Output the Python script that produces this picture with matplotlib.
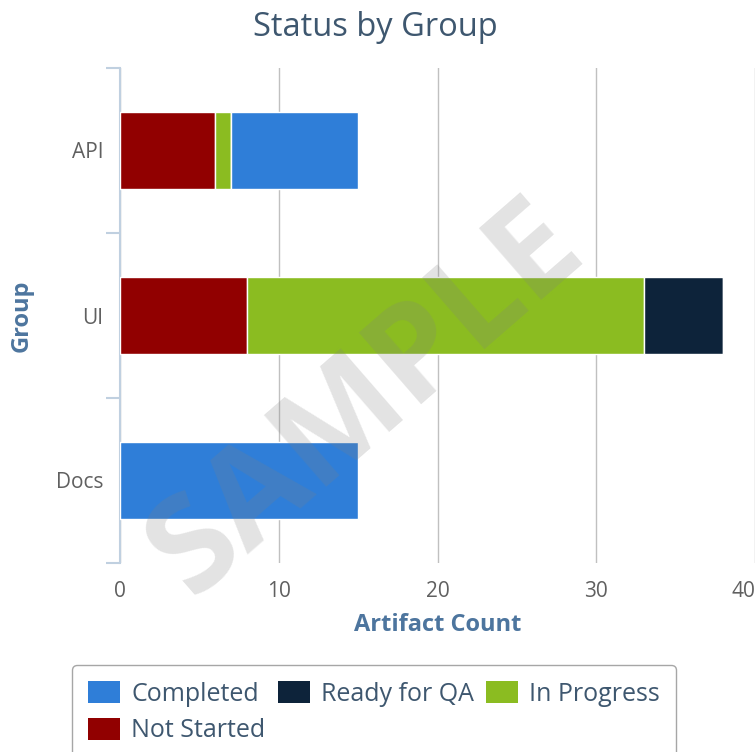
import numpy as np
import matplotlib
matplotlib.use("Agg")
import matplotlib.pyplot as plt
from matplotlib.patches import Patch

plt.rcParams['font.family'] = ['Open Sans', 'DejaVu Sans']

groups = ["API", "UI", "Docs"]
statuses = ["Not Started", "In Progress", "Ready for QA", "Completed"]
not_started = [6, 8, 0]
in_progress = [1, 25, 0]
ready_for_qa = [0, 5, 0]
completed = [8, 0, 15]
x_ticks = [0, 10, 20, 30, 40]
colors = {"Completed": "#2f7ed8", "Ready for QA": "#0d233a",
          "In Progress": "#8bbc21", "Not Started": "#910000"}

values = {"Not Started": not_started, "In Progress": in_progress,
          "Ready for QA": ready_for_qa, "Completed": completed}

fig = plt.figure(figsize=(7.56, 7.52), dpi=100)
ax = fig.add_axes([120/756, 1 - 563/752, 635/756, 495/752])

y = np.arange(len(groups))
left = np.zeros(len(groups))
for s in statuses:
    v = np.array(values[s], dtype=float)
    ax.barh(y, v, left=left, height=0.47, color=colors[s],
            edgecolor="white", linewidth=1, zorder=3)
    left += v

ax.set_xlim(0, 40)
ax.set_ylim(2.5, -0.5)
ax.set_xticks(x_ticks)
ax.set_yticks(y)
ax.set_yticklabels(groups)
ax.set_yticks([-0.5, 0.5, 1.5, 2.5], minor=True)

ax.grid(axis="x", color="#c0c0c0", linewidth=1, zorder=0)
for sp in ["top", "right", "bottom"]:
    ax.spines[sp].set_visible(False)
ax.spines["left"].set_color("#c0d0e0")
ax.spines["left"].set_linewidth(1.5)

ax.tick_params(axis="x", length=0, pad=13, labelsize=15, labelcolor="#606060")
ax.tick_params(axis="y", which="major", length=0, pad=12, labelsize=15, labelcolor="#606060")
ax.tick_params(axis="y", which="minor", length=10, width=1.5, color="#c0d0e0")
# keep the last x label inside the figure
ax.get_xticklabels()[-1].set_ha("right")

ax.set_xlabel("Artifact Count", fontsize=17, fontweight="bold", color="#4d759e")
ax.xaxis.label.set_va("center")
ax.xaxis.set_label_coords(0.5, -62/495)
ax.set_ylabel("Group", fontsize=17, fontweight="bold", color="#4d759e")
ax.yaxis.label.set_va("center")
ax.yaxis.set_label_coords(-98/635, 0.5)
fig.text(0.496, 1 - 27/752, "Status by Group", ha="center", va="center",
         fontsize=23.5, color="#3e576f")

# watermark over the bars
ax.text(0.39, 0.33, "SAMPLE", transform=ax.transAxes, fontsize=96,
        fontweight="bold", color="gray", alpha=0.22, rotation=41,
        ha="center", va="center", zorder=5)

order = ["Completed", "Not Started", "Ready for QA", "In Progress"]
handles = [Patch(facecolor=colors[s], label=s) for s in order]
leg = fig.legend(handles=handles, loc="upper center", bbox_to_anchor=(0.495, 1 - 665/752),
                 ncol=3, fontsize=18, frameon=True, fancybox=True,
                 handlelength=1.28, handleheight=0.96, handletextpad=0.44,
                 columnspacing=0.5, labelspacing=0.45, borderpad=0.65,
                 borderaxespad=0)
leg.get_frame().set_edgecolor("#909090")
leg.get_frame().set_linewidth(1)
for t in leg.get_texts():
    t.set_color("#3e576f")

fig.savefig("out.png", dpi=100)
